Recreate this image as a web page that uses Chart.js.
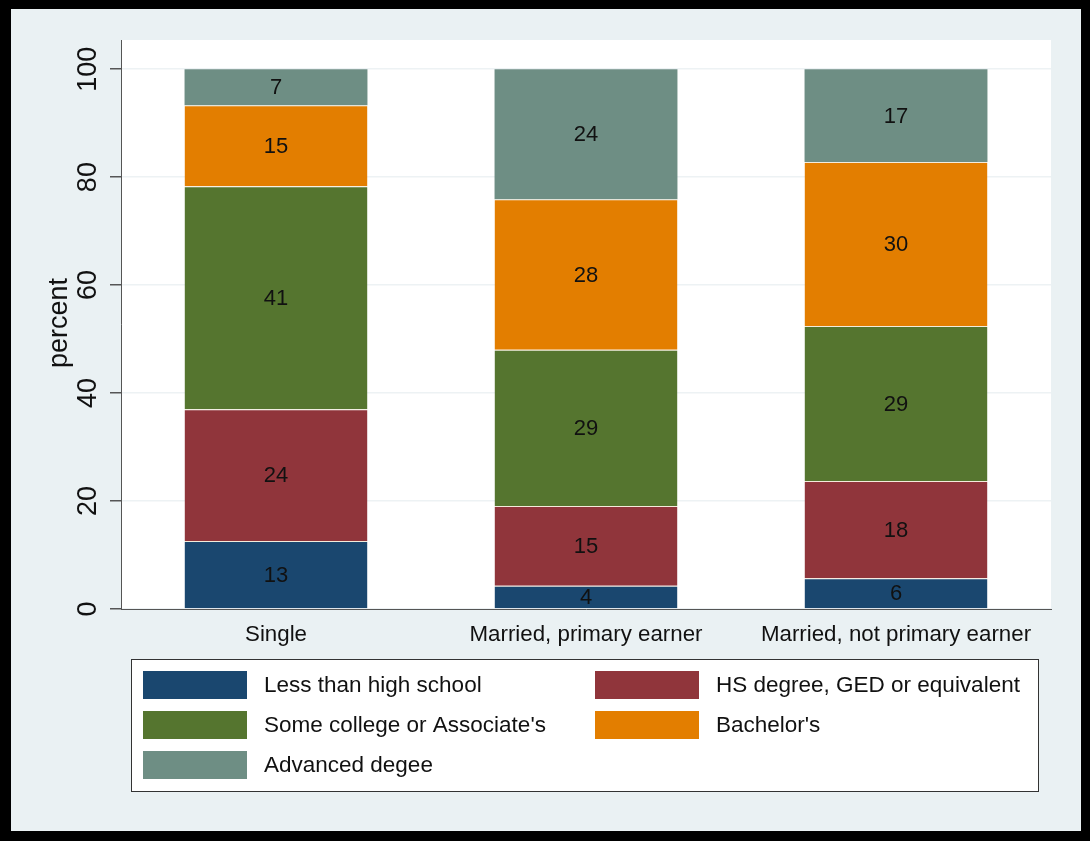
<!DOCTYPE html>
<html>
<head>
<meta charset="utf-8">
<script src="https://cdn.jsdelivr.net/npm/chart.js@4.4.1/dist/chart.umd.min.js"></script>
<style>
  html, body { margin: 0; padding: 0; background: #000; }
  #c { display: block; }
</style>
</head>
<body>
<canvas id="c" width="1090" height="841"></canvas>
<script>
const groups = ["Single", "Married, primary earner", "Married, not primary earner"];
const levels = ["Less than high school", "HS degree, GED or equivalent", "Some college or Associate's", "Bachelor's", "Advanced degee"];
const lessHS   = [12.6, 4.3, 5.7];
const hsDeg    = [24.4, 14.8, 18.0];
const college  = [41.3, 28.9, 28.7];
const bachelor = [15.0, 27.9, 30.4];
const advanced = [6.7, 24.1, 17.2];
const yTicks = [0, 20, 40, 60, 80, 100];

const colors = ["#1a476f", "#90353b", "#55752f", "#e37e00", "#6e8e84"];
const series = [lessHS, hsDeg, college, bachelor, advanced];
const FONT = "'Liberation Sans', Arial, sans-serif";

const $ = (id) => document.getElementById(id);

// frame, plot region, y labels, segment labels, legend
const stataLook = {
  id: "stataLook",
  beforeDraw(chart) {
    const { ctx, chartArea: a } = chart;
    ctx.save();
    ctx.fillStyle = "#000";
    ctx.fillRect(0, 0, chart.width, chart.height);
    ctx.fillStyle = "#eaf1f3";
    ctx.fillRect(11, 9, 1070, 822);
    ctx.fillStyle = "#fff";
    ctx.fillRect(a.left, a.top, a.right - a.left, a.bottom - a.top);
    ctx.restore();
  },
  afterDraw(chart) {
    const { ctx } = chart;
    const y = chart.scales.y;
    ctx.save();
    ctx.fillStyle = "#111";
    ctx.textAlign = "center";
    ctx.textBaseline = "middle";

    // y tick labels, rotated
    ctx.font = `27px ${FONT}`;
    yTicks.forEach(v => {
      ctx.save();
      ctx.translate(88, y.getPixelForValue(v));
      ctx.rotate(-Math.PI / 2);
      ctx.fillText(String(v), 0, 1);
      ctx.restore();
    });
    // y title
    ctx.font = `27px ${FONT}`;
    ctx.save();
    ctx.translate(60, 323);
    ctx.rotate(-Math.PI / 2);
    ctx.fillText("percent", 0, 0);
    ctx.restore();

    // values inside segments
    ctx.font = `22px ${FONT}`;
    chart.data.datasets.forEach((ds, i) => {
      chart.getDatasetMeta(i).data.forEach((bar, j) => {
        ctx.fillText(String(Math.round(ds.data[j])), bar.x, (bar.y + bar.base) / 2 + 1);
      });
    });

    // legend box
    ctx.fillStyle = "#fff";
    ctx.fillRect(131, 659, 908, 132);
    ctx.strokeStyle = "#333";
    ctx.lineWidth = 1;
    ctx.strokeRect(131.5, 659.5, 907, 132);
    ctx.font = `22.5px ${FONT}`;
    ctx.textAlign = "left";
    levels.forEach((name, i) => {
      const col = i % 2, row = Math.floor(i / 2);
      const sx = col ? 595 : 143;
      const cy = 685 + row * 40;
      ctx.fillStyle = colors[i];
      ctx.fillRect(sx, cy - 14, 104, 28);
      ctx.fillStyle = "#111";
      ctx.fillText(name, sx + 121, cy + 1);
    });
    ctx.restore();
  }
};

new Chart($("c"), {
  type: "bar",
  data: {
    labels: groups,
    datasets: levels.map((name, i) => ({
      label: name,
      data: series[i],
      backgroundColor: colors[i],
      borderColor: "rgba(240,228,205,0.7)",
      borderWidth: i < levels.length - 1 ? { top: 1, left: 0, right: 0, bottom: 0 } : 0,
      borderSkipped: false,
      barPercentage: 0.59,
      categoryPercentage: 1
    }))
  },
  options: {
    responsive: false,
    animation: false,
    devicePixelRatio: 1,
    layout: { padding: { top: 40, right: 39, left: 0, bottom: 0 } },
    plugins: { legend: { display: false }, tooltip: { enabled: false } },
    scales: {
      x: {
        stacked: true,
        grid: { display: false, drawTicks: false },
        border: { display: true, color: "#555", width: 1 },
        ticks: { color: "#111", font: { family: FONT, size: 22.3 }, padding: 12, maxRotation: 0 },
        afterFit: s => { s.height = 232; }
      },
      y: {
        stacked: true,
        min: 0,
        max: 105.4,
        afterBuildTicks: s => { s.ticks = yTicks.map(v => ({ value: v })); },
        grid: { color: "#edf2f4", lineWidth: 1.5, tickColor: "#555", tickLength: 11, drawTicks: true },
        border: { display: true, color: "#555", width: 1 },
        ticks: { display: false },
        afterFit: s => { s.width = 121; }
      }
    }
  },
  plugins: [stataLook]
});
</script>
</body>
</html>
